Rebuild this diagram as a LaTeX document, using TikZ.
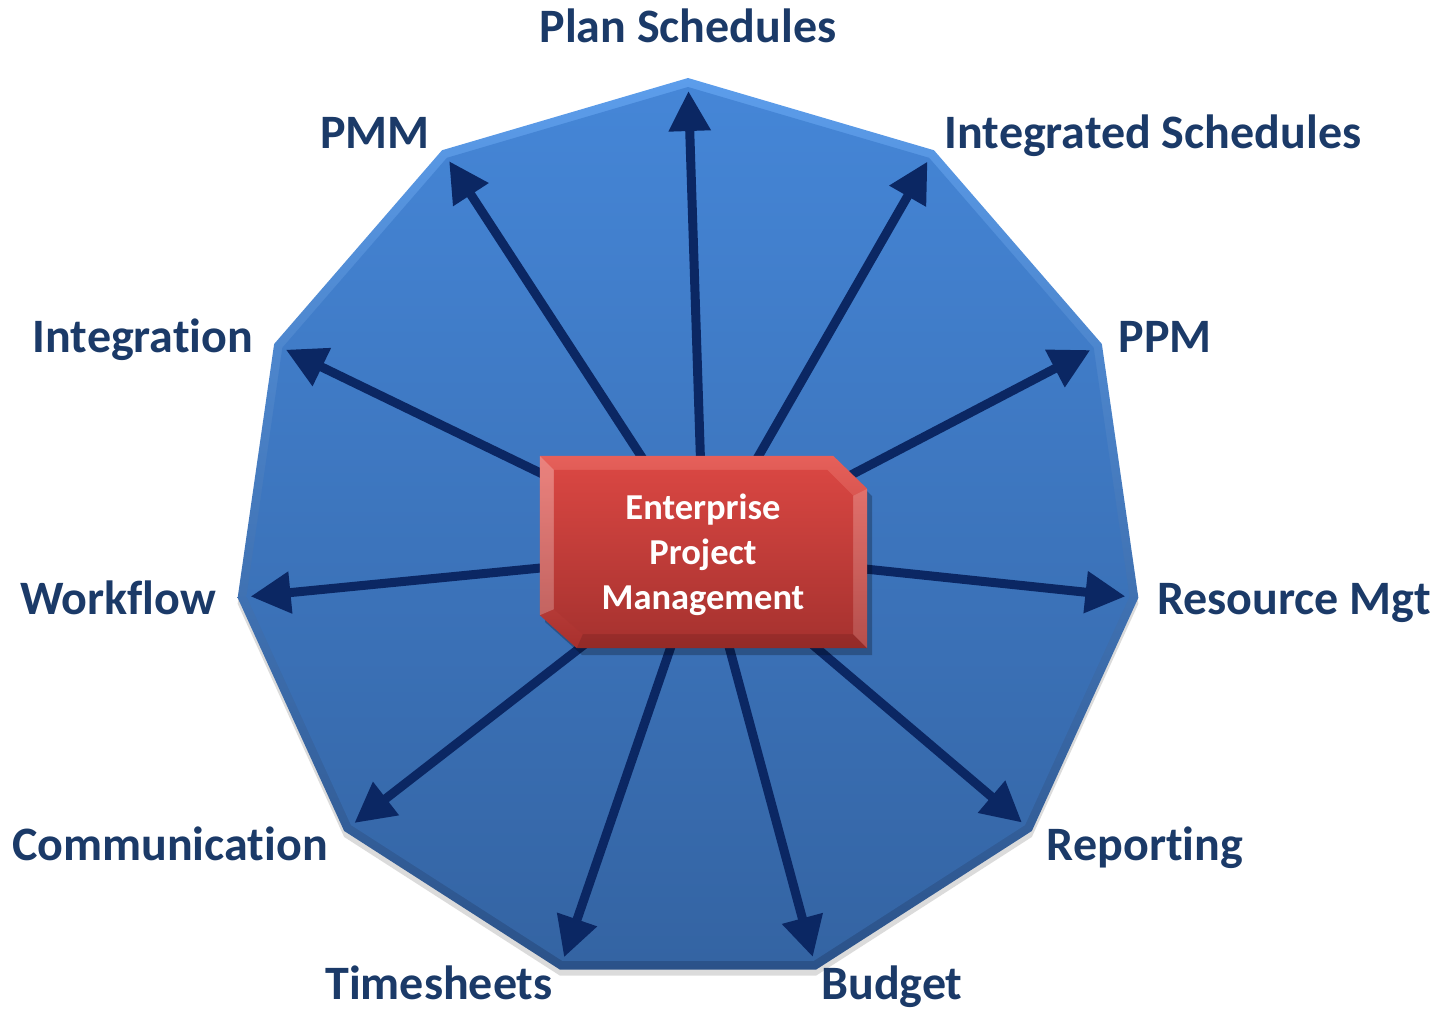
\documentclass[tikz,border=0pt]{standalone}
\usepackage{fontspec}
\setmainfont{Carlito}[Ligatures=NoCommon]
\usetikzlibrary{arrows.meta,calc}
\definecolor{lblc}{HTML}{1B3A68}
\definecolor{arrc}{HTML}{0B2763}
\definecolor{polytopA}{HTML}{5C9DEB}
\definecolor{polybotA}{HTML}{2B5289}
\definecolor{polytopB}{HTML}{4586D7}
\definecolor{polybotB}{HTML}{3464A3}
\definecolor{boxtopA}{HTML}{E6605A}
\definecolor{boxbotA}{HTML}{A8302D}
\definecolor{boxtopB}{HTML}{D84642}
\definecolor{boxbotB}{HTML}{A93330}
\begin{document}
\begin{tikzpicture}[x=1pt,y=-1pt,
  lbl/.style={font=\fontsize{48}{56}\selectfont\bfseries, text=lblc, inner sep=0pt, anchor=base},
  arr/.style={draw=arrc, line width=9pt, -{Triangle[length=40pt,width=40pt]}, shorten >=13pt},
  boxtxt/.style={font=\fontsize{36.5}{45}\selectfont\bfseries, text=white, align=center, inner sep=0pt}]
\useasboundingbox (0,0) rectangle (1443,1010);
\coordinate (c) at (688,533);
\foreach \i in {0,...,10} {
  \coordinate (v\i) at ($(c)+({-90+\i*360/11}:455)$);
  \coordinate (w\i) at ($(c)+({-90+\i*360/11}:446)$);
  \coordinate (s\i) at ($(c)+(0,6)+({-90+\i*360/11}:455)$);
}
% shadow
\fill[black,opacity=0.14] (s0)--(s1)--(s2)--(s3)--(s4)--(s5)--(s6)--(s7)--(s8)--(s9)--(s10)--cycle;
% polygon with bevel
\shade[top color=polytopA,bottom color=polybotA] (v0)--(v1)--(v2)--(v3)--(v4)--(v5)--(v6)--(v7)--(v8)--(v9)--(v10)--cycle;
\shade[top color=polytopB,bottom color=polybotB] (w0)--(w1)--(w2)--(w3)--(w4)--(w5)--(w6)--(w7)--(w8)--(w9)--(w10)--cycle;

% central node (placeholder for geometry)
\node[minimum width=327pt, minimum height=192pt, inner sep=0pt] (epm) at (703.5,552) {};

% arrows
\foreach \i in {0,...,10} {
  \draw[arr] (epm.center) -- (v\i);
}

% box shadow
\fill[black,opacity=0.25] (545,463)--(838,463)--(872,496)--(872,655)--(582,655)--(545,622)--cycle;
% box outer (bevel)
\shade[top color=boxtopA,bottom color=boxbotA] (epm.north west)--($(epm.north east)+(-34,0)$)--($(epm.north east)+(0,33)$)--(epm.south east)--($(epm.south west)+(37,0)$)--($(epm.south west)+(0,-33)$)--cycle;
% left highlight face
\fill[white,opacity=0.22] (epm.north west)--($(epm.north west)+(14,14)$)--($(epm.south west)+(14,-39)$)--($(epm.south west)+(0,-33)$)--cycle;
% right highlight face
\fill[white,opacity=0.15] ($(epm.north east)+(0,33)$)--($(epm.north east)+(-14,40)$)--($(epm.south east)+(-14,-14)$)--(epm.south east)--cycle;
% bottom dark face
\fill[black,opacity=0.12] ($(epm.south west)+(37,0)$)--($(epm.south west)+(43,-14)$)--($(epm.south east)+(-14,-14)$)--(epm.south east)--cycle;
% inner face
\shade[top color=boxtopB,bottom color=boxbotB] ($(epm.north west)+(14,14)$)--($(epm.north east)+(-40,14)$)--($(epm.north east)+(-14,40)$)--($(epm.south east)+(-14,-14)$)--($(epm.south west)+(43,-14)$)--($(epm.south west)+(14,-39)$)--cycle;

\node[boxtxt] (epmtext) at (703,555) {Enterprise\\Project\\Management};

% labels
\node[lbl] (lplan) at (688,42) {Plan Schedules};
\node[lbl] (lpmm) at (375,148) {PMM};
\node[lbl] (lint) at (1153,148) {Integrated Schedules};
\node[lbl] (lppm) at (1165,352) {PPM};
\node[lbl] (lres) at (1294,614) {Resource Mgt};
\node[lbl] (lrep) at (1145,860) {Reporting};
\node[lbl] (lbud) at (892,999) {Budget};
\node[lbl] (ltime) at (439,999) {Timesheets};
\node[lbl] (lcom) at (170,860) {Communication};
\node[lbl] (lwf) at (118,614) {Workflow};
\node[lbl] (lintg) at (143,352) {Integration};
\end{tikzpicture}
\end{document}
